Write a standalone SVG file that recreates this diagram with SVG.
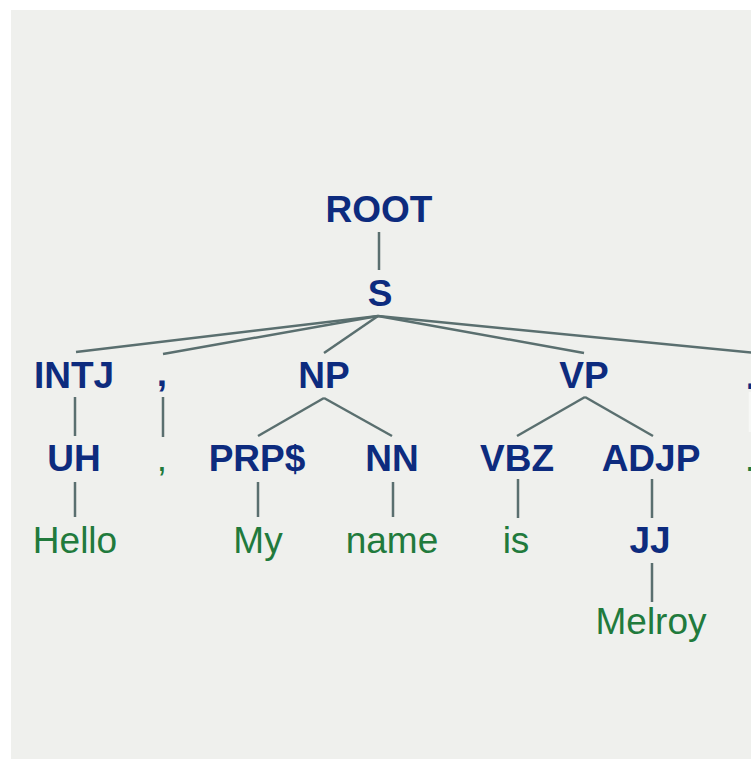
<svg xmlns="http://www.w3.org/2000/svg" width="751" height="759" viewBox="0 0 751 759">
  <style>
    .tag { font-family: "Liberation Sans", Arial, sans-serif; font-weight: bold; font-size: 37px; fill: #0d2b7e; text-anchor: middle; }
    .word { font-family: "Liberation Sans", Arial, sans-serif; font-size: 37px; fill: #217a3c; text-anchor: middle; }
    .edge { stroke: #5a6f6f; stroke-width: 2.5; fill: none; stroke-linecap: butt; }
    .faint { stroke: #f7f8f6; }
  </style>
  <rect x="0" y="0" width="751" height="759" fill="#ffffff"/>
  <rect x="11" y="10" width="740" height="749" fill="#eff0ed"/>

  <!-- tree edges -->
  <g id="connectors">
    <line class="edge" x1="379" y1="232" x2="379" y2="270"/>
    <line class="edge" x1="378" y1="316" x2="76" y2="352"/>
    <line class="edge" x1="378" y1="316" x2="163" y2="354"/>
    <line class="edge" x1="378" y1="316" x2="324" y2="353"/>
    <line class="edge" x1="378" y1="316" x2="584" y2="353"/>
    <line class="edge" x1="378" y1="316" x2="755" y2="353"/>
    <line class="edge" x1="75" y1="397" x2="75" y2="436"/>
    <line class="edge" x1="163" y1="397" x2="163" y2="437"/>
    <line class="edge faint" x1="750" y1="392" x2="750" y2="432"/>
    <line class="edge" x1="324" y1="398" x2="258" y2="436"/>
    <line class="edge" x1="324" y1="398" x2="392" y2="436"/>
    <line class="edge" x1="585" y1="397" x2="517" y2="436"/>
    <line class="edge" x1="585" y1="397" x2="653" y2="436"/>
    <line class="edge" x1="75" y1="482" x2="75" y2="517"/>
    <line class="edge" x1="258" y1="482" x2="258" y2="517"/>
    <line class="edge" x1="393" y1="482" x2="393" y2="517"/>
    <line class="edge" x1="518" y1="479" x2="518" y2="518"/>
    <line class="edge" x1="652" y1="479" x2="652" y2="518"/>
    <line class="edge" x1="652" y1="563" x2="652" y2="602"/>
  </g>

  <g id="n-root"><text class="tag" x="379" y="222">ROOT</text></g>
  <g id="n-s"><text class="tag" x="380" y="306">S</text></g>

  <g id="n-intj"><text class="tag" x="74" y="388">INTJ</text></g>
  <g id="n-comma-tag"><text class="tag" x="162" y="386">,</text></g>
  <g id="n-np"><text class="tag" x="324" y="388">NP</text></g>
  <g id="n-vp"><text class="tag" x="584" y="388">VP</text></g>
  <g id="n-period-tag"><text class="tag" x="751" y="389">.</text></g>

  <g id="n-uh"><text class="tag" x="74" y="471">UH</text></g>
  <g id="n-comma-word"><text class="word" x="162" y="471">,</text></g>
  <g id="n-period-word"><text class="word" x="750" y="471">.</text></g>
  <g id="n-prp"><text class="tag" x="257" y="471">PRP$</text></g>
  <g id="n-nn"><text class="tag" x="392" y="471">NN</text></g>
  <g id="n-vbz"><text class="tag" x="517" y="471">VBZ</text></g>
  <g id="n-adjp"><text class="tag" x="651" y="471">ADJP</text></g>

  <g id="n-hello"><text class="word" x="75" y="553">Hello</text></g>
  <g id="n-my"><text class="word" x="258" y="553">My</text></g>
  <g id="n-name"><text class="word" x="392" y="553">name</text></g>
  <g id="n-is"><text class="word" x="516" y="553">is</text></g>
  <g id="n-jj"><text class="tag" x="650" y="553">JJ</text></g>

  <g id="n-melroy"><text class="word" x="651" y="634">Melroy</text></g>
</svg>
